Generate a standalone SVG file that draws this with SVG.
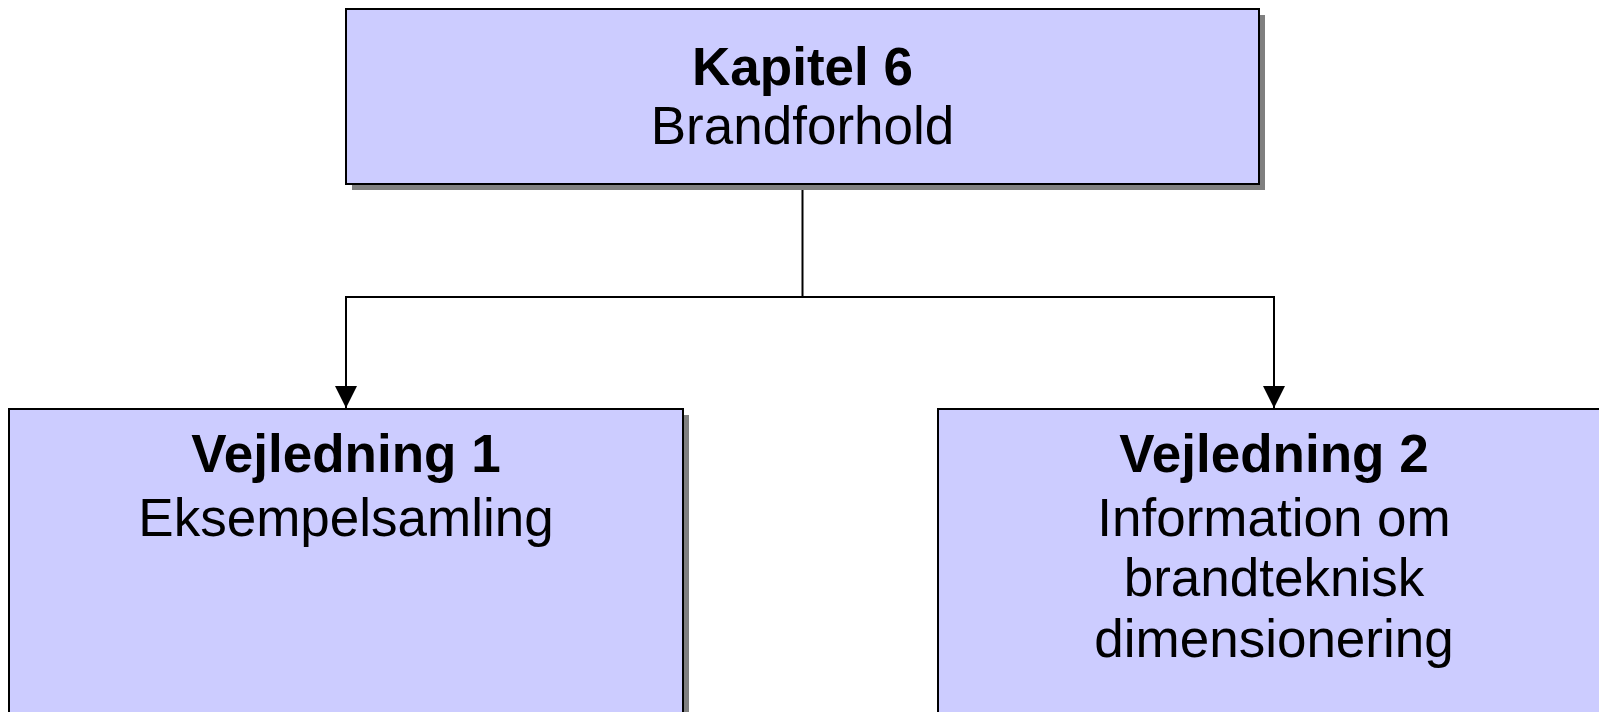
<svg xmlns="http://www.w3.org/2000/svg" width="1599" height="712" viewBox="0 0 1599 712">
<style>
.box{fill:#CCCCFF;stroke:#000;stroke-width:2}
.shadow{fill:#808080}
.t{font-family:"Liberation Sans",Arial,sans-serif;font-size:53px;fill:#000;text-anchor:middle}
.b{font-weight:bold;font-size:53px}
.conn{fill:none;stroke:#000;stroke-width:2}
</style>
<defs>
<marker id="arrow" markerUnits="userSpaceOnUse" markerWidth="22" markerHeight="22" viewBox="0 0 20 20" refX="20" refY="10" orient="auto">
<path d="M0,0 L20,10 L0,20 Z" fill="#000"/>
</marker>
</defs>
<rect width="1599" height="712" fill="#fff"/>
<g id="connectors">
<path class="conn" d="M802.5,184 V297 H346 V408" marker-end="url(#arrow)"/>
<path class="conn" d="M802.5,297 H1274 V408" marker-end="url(#arrow)"/>
</g>
<g id="kapitel6">
<rect class="shadow" x="352" y="15" width="913" height="175"/>
<rect class="box" x="346" y="9" width="913" height="175"/>
<text class="t b" x="802.5" y="84.5">Kapitel 6</text>
<text class="t" x="802.5" y="144">Brandforhold</text>
</g>
<g id="vejledning1">
<rect class="shadow" x="15" y="415" width="674" height="320"/>
<rect class="box" x="9" y="409" width="674" height="320"/>
<text class="t b" x="346" y="472">Vejledning 1</text>
<text class="t" x="346" y="535.5">Eksempelsamling</text>
</g>
<g id="vejledning2">
<rect class="shadow" x="944" y="415" width="672" height="320"/>
<rect class="box" x="938" y="409" width="672" height="320"/>
<text class="t b" x="1274" y="472">Vejledning 2</text>
<text class="t" x="1274" y="535.5">Information om</text>
<text class="t" x="1274" y="596">brandteknisk</text>
<text class="t" x="1274" y="656.5">dimensionering</text>
</g>
</svg>
